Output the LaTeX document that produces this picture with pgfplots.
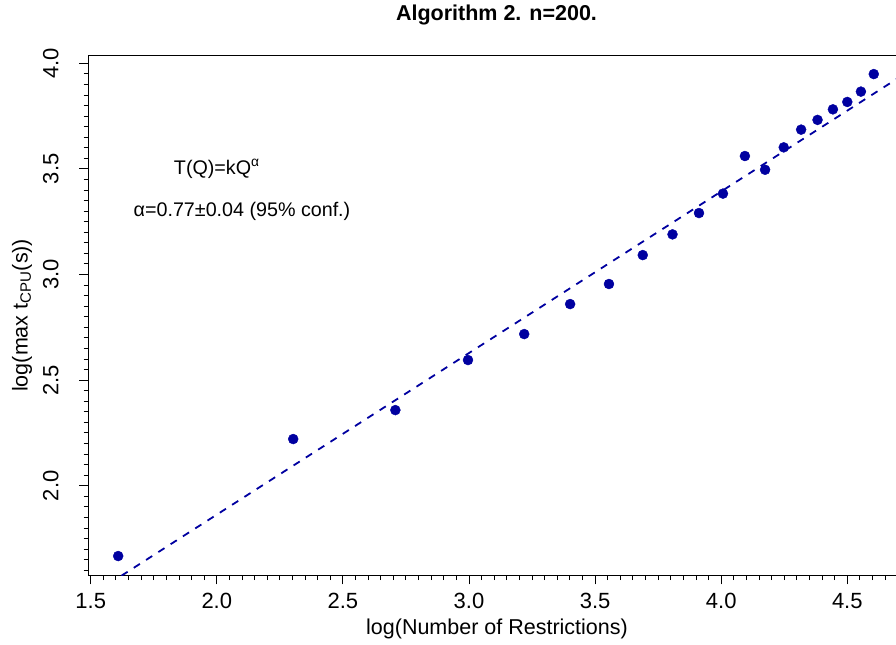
\documentclass[border=0pt]{standalone}
\usepackage{fontspec}
\setmainfont{Liberation Sans}
\usepackage{pgfplots}
\pgfplotsset{compat=1.18}
\definecolor{ptblue}{HTML}{0000A0}
\begin{document}
\begin{tikzpicture}
\useasboundingbox (0bp,0bp) rectangle (896bp,-645bp);
\begin{axis}[
  at={(88bp,-575.7bp)}, anchor=south west,
  scale only axis, width=818bp, height=520.7bp,
  xmin=1.4893, xmax=4.7328, ymin=1.5739, ymax=4.0393,
  xtick={1.5,2.0,2.5,3.0,3.5,4.0,4.5},
  minor xtick={1.55,1.6,...,4.71},
  ytick={2.0,2.5,3.0,3.5,4.0},
  minor ytick={1.6,1.65,...,4.01},
  tick pos=left,
  tick align=outside,
  major tick length=8.7bp, minor tick length=4.3bp,
  every tick/.style={black, line width=0.9bp},
  axis line style={line width=1bp, black},
  /pgf/number format/assume math mode=true,
  /pgf/number format/.cd, fixed, fixed zerofill, precision=1, /pgfplots/.cd,
  tick label style={font=\fontsize{22bp}{26bp}\selectfont},
  xticklabel style={anchor=base, yshift=-24bp},
  yticklabel style={anchor=base, rotate=90, yshift=21bp},
  xlabel={log(Number of Restrictions)},
  ylabel={log(max t\textsubscript{CPU}(s))},
  label style={font=\fontsize{21.5bp}{25bp}\selectfont},
  xlabel style={at={(axis description cs:0.5,-0.112)}, anchor=base},
  ylabel style={at={(axis description cs:-0.0807,0.5)}, anchor=center},
  title={Algorithm 2. n=200.},
  title style={font=\bfseries\fontsize{21.5bp}{25bp}\selectfont, at={(axis description cs:0.4994,1.0544)}, anchor=base},
]
\addplot[ptblue, dash pattern=on 7.3bp off 7.3bp, line width=1.8bp] coordinates {(1.622,1.5739) (4.7328,3.954)};
\addplot[only marks, mark=*, mark size=5bp, ptblue, mark options={fill=ptblue, draw=ptblue}] coordinates {
(1.609,1.667) (2.303,2.221) (2.708,2.358) (2.996,2.595) (3.219,2.718)
(3.401,2.860) (3.555,2.955) (3.689,3.092) (3.807,3.190) (3.912,3.291)
(4.007,3.383) (4.094,3.561) (4.174,3.496) (4.248,3.602) (4.317,3.686)
(4.382,3.732) (4.443,3.782) (4.500,3.817) (4.554,3.866) (4.605,3.949)
};
\node[font=\fontsize{19.7bp}{24bp}\selectfont] at (axis cs:2.0,3.5) {T(Q)=kQ\textsuperscript{α}};
\node[font=\fontsize{19.7bp}{24bp}\selectfont] at (axis cs:2.1,3.3) {α=0.77±0.04 (95\% conf.)};
\end{axis}
\end{tikzpicture}
\end{document}
